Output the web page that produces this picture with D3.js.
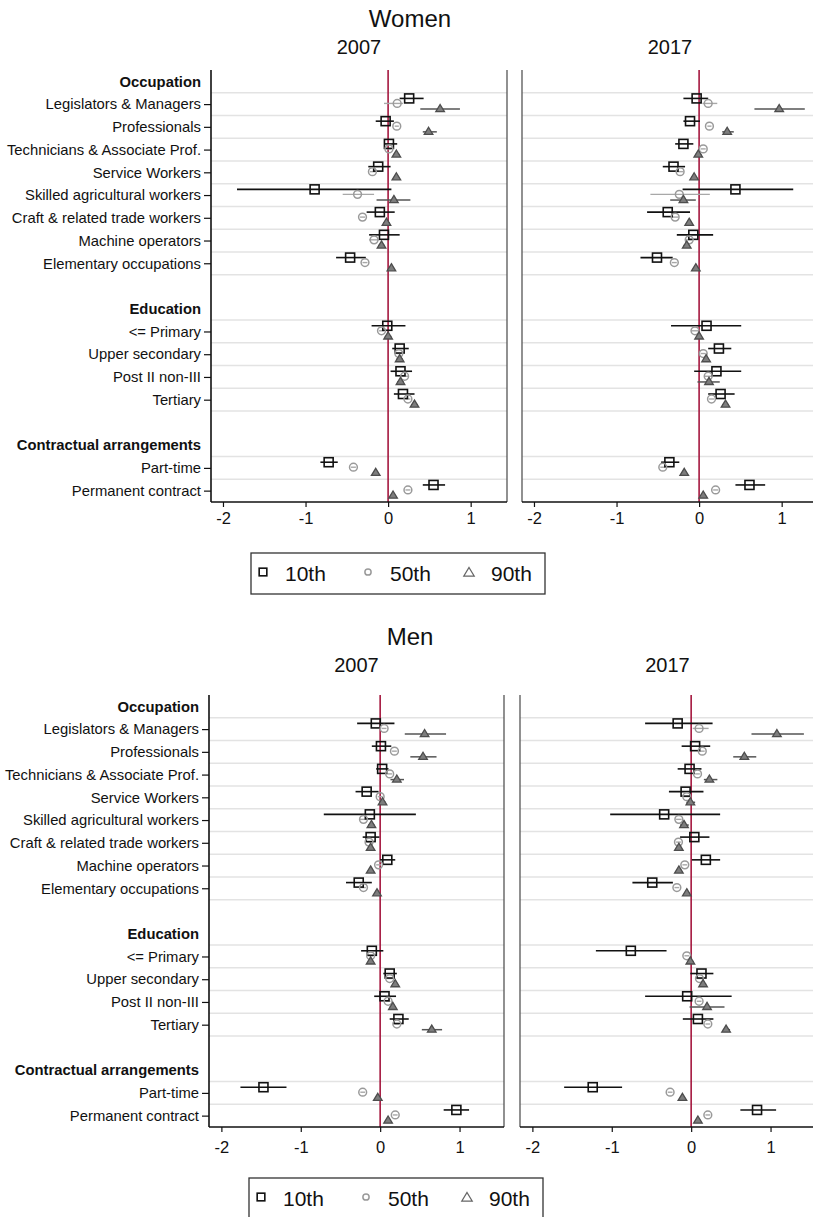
<!DOCTYPE html>
<html>
<head>
<meta charset="utf-8">
<script src="https://cdn.jsdelivr.net/npm/d3@7"></script>
<style>
  body { margin: 0; background: #fff; }
  svg { display: block; font-family: "Liberation Sans", Arial, Helvetica, sans-serif; }
</style>
</head>
<body>
<script>
// categories
const occupations = ["Legislators & Managers", "Professionals", "Technicians & Associate Prof.",
  "Service Workers", "Skilled agricultural workers", "Craft & related trade workers",
  "Machine operators", "Elementary occupations"];
const education = ["<= Primary", "Upper secondary", "Post II non-III", "Tertiary"];
const contracts = ["Part-time", "Permanent contract"];
const groupNames = ["Occupation", "Education", "Contractual arrangements"];
const percentiles = ["10th", "50th", "90th"];
const years = ["2007", "2017"];
const xTicks = [-2, -1, 0, 1];

// estimates as [coef, lower CI, upper CI], one row per category
const w07_p10 = [[0.255,0.14,0.43],[-0.03,-0.15,0.07],[0.01,-0.05,0.11],[-0.12,-0.24,0.03],[-0.89,-1.83,0.04],[-0.10,-0.26,0.08],[-0.05,-0.23,0.14],[-0.46,-0.63,-0.27],
  [-0.01,-0.20,0.21],[0.14,0.05,0.25],[0.15,0.03,0.29],[0.18,0.07,0.32],[-0.72,-0.82,-0.61],[0.55,0.42,0.69]];
const w07_p50 = [[0.11,-0.05,0.18],[0.105,0.08,0.13],[0.01,-0.02,0.04],[-0.19,-0.22,-0.16],[-0.37,-0.55,-0.17],[-0.31,-0.34,-0.28],[-0.17,-0.23,-0.11],[-0.28,-0.31,-0.25],
  [-0.08,-0.11,-0.05],[0.13,0.10,0.16],[0.20,0.16,0.24],[0.24,0.21,0.27],[-0.42,-0.45,-0.39],[0.24,0.21,0.27]];
const w07_p90 = [[0.63,0.39,0.87],[0.49,0.42,0.59],[0.10,0.06,0.14],[0.10,0.07,0.13],[0.07,-0.14,0.27],[-0.02,-0.06,0.02],[-0.08,-0.12,-0.04],[0.04,0.01,0.07],
  [0.00,-0.04,0.04],[0.14,0.10,0.18],[0.15,0.11,0.19],[0.32,0.28,0.36],[-0.15,-0.18,-0.12],[0.06,0.03,0.09]];

const w17_p10 = [[-0.03,-0.19,0.11],[-0.11,-0.19,0.01],[-0.19,-0.29,-0.07],[-0.31,-0.44,-0.17],[0.44,-0.20,1.14],[-0.38,-0.63,-0.11],[-0.07,-0.27,0.17],[-0.51,-0.71,-0.32],
  [0.09,-0.34,0.51],[0.24,0.11,0.39],[0.21,-0.06,0.51],[0.26,0.11,0.43],[-0.36,-0.46,-0.24],[0.61,0.44,0.80]];
const w17_p50 = [[0.11,0.04,0.22],[0.125,0.10,0.15],[0.05,0.02,0.08],[-0.23,-0.27,-0.19],[-0.24,-0.59,0.13],[-0.29,-0.33,-0.25],[-0.12,-0.16,-0.08],[-0.30,-0.33,-0.27],
  [-0.05,-0.09,-0.01],[0.05,0.02,0.08],[0.11,0.07,0.15],[0.15,0.12,0.18],[-0.44,-0.47,-0.41],[0.20,0.17,0.23]];
const w17_p90 = [[0.97,0.67,1.28],[0.34,0.28,0.42],[-0.01,-0.05,0.03],[-0.06,-0.09,-0.03],[-0.19,-0.35,-0.04],[-0.12,-0.15,-0.09],[-0.15,-0.19,-0.11],[-0.04,-0.07,-0.01],
  [0.00,-0.03,0.03],[0.085,0.05,0.12],[0.12,-0.02,0.25],[0.32,0.28,0.36],[-0.18,-0.21,-0.15],[0.05,0.02,0.08]];

const m07_p10 = [[-0.055,-0.29,0.18],[0.01,-0.105,0.14],[0.025,-0.05,0.105],[-0.17,-0.31,-0.02],[-0.13,-0.71,0.45],[-0.12,-0.22,-0.01],[0.09,0.00,0.19],[-0.27,-0.43,-0.105],
  [-0.105,-0.24,0.04],[0.12,0.04,0.21],[0.055,-0.075,0.20],[0.23,0.12,0.36],[-1.47,-1.76,-1.18],[0.96,0.80,1.12]];
const m07_p50 = [[0.05,0.02,0.08],[0.18,0.15,0.21],[0.12,0.09,0.15],[0.00,-0.03,0.03],[-0.21,-0.26,-0.16],[-0.14,-0.17,-0.11],[-0.02,-0.05,0.01],[-0.21,-0.24,-0.18],
  [-0.12,-0.15,-0.09],[0.12,0.09,0.15],[0.10,0.07,0.13],[0.21,0.18,0.24],[-0.22,-0.25,-0.19],[0.19,0.16,0.22]];
const m07_p90 = [[0.56,0.31,0.83],[0.54,0.38,0.71],[0.21,0.13,0.30],[0.03,-0.01,0.07],[-0.11,-0.15,-0.07],[-0.12,-0.15,-0.09],[-0.12,-0.15,-0.09],[-0.04,-0.07,-0.01],
  [-0.12,-0.15,-0.09],[0.19,0.16,0.22],[0.16,0.12,0.20],[0.65,0.525,0.78],[-0.03,-0.06,0.00],[0.10,0.07,0.13]];

const m17_p10 = [[-0.17,-0.58,0.27],[0.05,-0.12,0.24],[-0.02,-0.17,0.13],[-0.07,-0.28,0.155],[-0.34,-1.02,0.365],[0.04,-0.14,0.23],[0.185,0.01,0.365],[-0.49,-0.74,-0.23],
  [-0.76,-1.20,-0.31],[0.13,-0.01,0.28],[-0.05,-0.58,0.51],[0.085,-0.105,0.28],[-1.24,-1.60,-0.87],[0.83,0.62,1.07]];
const m17_p50 = [[0.10,0.02,0.22],[0.14,0.11,0.17],[0.08,0.05,0.11],[-0.055,-0.09,-0.02],[-0.155,-0.19,-0.12],[-0.16,-0.19,-0.13],[-0.08,-0.11,-0.05],[-0.18,-0.21,-0.15],
  [-0.055,-0.085,-0.025],[0.105,0.075,0.135],[0.10,0.07,0.13],[0.21,0.18,0.24],[-0.265,-0.295,-0.235],[0.21,0.18,0.24]];
const m17_p90 = [[1.08,0.76,1.42],[0.67,0.53,0.82],[0.23,0.16,0.33],[-0.01,-0.06,0.05],[-0.09,-0.14,-0.03],[-0.155,-0.19,-0.12],[-0.155,-0.19,-0.12],[-0.055,-0.09,-0.02],
  [-0.01,-0.05,0.03],[0.15,0.11,0.19],[0.20,-0.02,0.42],[0.44,0.40,0.49],[-0.11,-0.14,-0.08],[0.085,0.05,0.12]];

const svg = d3.select("body").append("svg").attr("width", 813).attr("height", 1217);

// row layout: header row, items, blank row between groups
const groups = [occupations, education, contracts];
const itemRows = [], headerRows = [], labels = [];
let r = 0;
groups.forEach((items, gi) => {
  headerRows.push(r); r++;
  items.forEach(it => { itemRows.push(r); labels.push(it); r++; });
  if (gi < groups.length - 1) r++;
});
const nRows = r;

const styles = [
  { line: "#111", width: 1.6 },
  { line: "#a8a8a8", width: 1.4 },
  { line: "#555", width: 1.5 }
];
const offsets = [-0.25, -0.03, 0.22];

function marker(g, k, x, y, scale = 1) {
  if (k === 0) {
    const s = 9 * scale;
    g.append("rect").attr("x", x - s / 2).attr("y", y - s / 2).attr("width", s).attr("height", s)
      .attr("fill", "none").attr("stroke", "#111").attr("stroke-width", 1.6);
  } else if (k === 1) {
    g.append("circle").attr("cx", x).attr("cy", y).attr("r", 3.9 * scale)
      .attr("fill", "none").attr("stroke", "#9a9a9a").attr("stroke-width", 1.5);
  } else {
    const h = 4.6 * scale, w = 4.3 * scale;
    g.append("path").attr("d", `M${x},${y - h}L${x + w},${y + h * 0.55}L${x - w},${y + h * 0.55}Z`)
      .attr("fill", scale === 1 ? "#7d7d7d" : "none").attr("stroke", scale === 1 ? "#4d4d4d" : "#666")
      .attr("stroke-width", 1.3);
  }
}

function drawFigure(cfg) {
  svg.append("text").attr("x", 410).attr("y", cfg.titleY).attr("text-anchor", "middle")
    .style("font-size", "24px").attr("fill", "#111").text(cfg.title);

  const y = d3.scaleLinear().domain([-0.5, nRows - 0.5]).range([cfg.top, cfg.bottom]);

  cfg.panels.forEach((p, pi) => {
    const x = d3.scaleLinear().domain(cfg.domain).range(p.range);
    const g = svg.append("g");

    g.append("text").attr("x", (p.range[0] + p.range[1]) / 2).attr("y", cfg.yearY)
      .attr("text-anchor", "middle").style("font-size", "20px").attr("fill", "#111").text(years[pi]);

    // grid lines between rows
    const gridRows = [];
    let idx = 0;
    groups.forEach(items => {
      items.forEach(() => { gridRows.push(itemRows[idx] - 0.5); idx++; });
      gridRows.push(itemRows[idx - 1] + 0.5);
    });
    g.selectAll(".grid").data(gridRows.filter(v => v < nRows - 0.5)).enter().append("line")
      .attr("x1", p.range[0]).attr("x2", p.range[1])
      .attr("y1", d => y(d)).attr("y2", d => y(d))
      .attr("stroke", "#e3e3e3").attr("stroke-width", 1.5);

    // zero reference line
    g.append("line").attr("x1", x(0)).attr("x2", x(0)).attr("y1", cfg.top).attr("y2", cfg.bottom)
      .attr("stroke", "#a5183f").attr("stroke-width", 1.6);

    // frame
    g.append("line").attr("x1", p.range[0]).attr("x2", p.range[0]).attr("y1", cfg.top).attr("y2", cfg.bottom)
      .attr("stroke", pi === 0 ? "#111" : "#555").attr("stroke-width", pi === 0 ? 1.6 : 1.3);
    g.append("line").attr("x1", p.range[1]).attr("x2", p.range[1]).attr("y1", cfg.top).attr("y2", cfg.bottom)
      .attr("stroke", "#555").attr("stroke-width", 1.3);

    // x axis
    const xAxis = g.append("g").attr("transform", `translate(0,${cfg.bottom})`)
      .call(d3.axisBottom(x).tickValues(xTicks).tickFormat(d => String(d)).tickSize(5).tickSizeOuter(0));
    xAxis.select(".domain").attr("stroke", "#111").attr("stroke-width", 1.6)
      .attr("d", `M${p.range[0]},0H${p.range[1]}`);
    xAxis.selectAll(".tick line").attr("stroke", "#111").attr("stroke-width", 1.2);
    xAxis.selectAll(".tick text").attr("dy", cfg.tickDy).style("font-size", "16.5px")
      .style("font-family", "Liberation Sans, Arial, sans-serif").attr("fill", "#111");

    // y axis labels on first panel
    if (pi === 0) {
      const yAxis = g.append("g").attr("transform", `translate(${p.range[0]},0)`)
        .call(d3.axisLeft(y).tickValues(itemRows).tickFormat((d, i) => labels[i]).tickSize(7).tickPadding(3));
      yAxis.select(".domain").remove();
      yAxis.selectAll(".tick line").attr("stroke", "#111").attr("stroke-width", 1.2);
      yAxis.selectAll(".tick text").style("font-size", "14.8px")
        .style("font-family", "Liberation Sans, Arial, sans-serif").attr("fill", "#111");
      g.selectAll(".hdr").data(headerRows).enter().append("text")
        .attr("x", p.range[0] - 10).attr("y", d => y(d)).attr("dy", "0.35em")
        .attr("text-anchor", "end").style("font-size", "14.8px").style("font-weight", "bold")
        .attr("fill", "#111").text((d, i) => groupNames[i]);
    }

    // CIs then markers
    p.series.forEach((ser, k) => {
      ser.forEach((v, i) => {
        const yy = y(itemRows[i] + offsets[k]);
        g.append("line").attr("x1", x(v[1])).attr("x2", x(v[2])).attr("y1", yy).attr("y2", yy)
          .attr("stroke", styles[k].line).attr("stroke-width", styles[k].width);
      });
    });
    p.series.forEach((ser, k) => {
      ser.forEach((v, i) => marker(g, k, x(v[0]), y(itemRows[i] + offsets[k])));
    });
  });

  // legend
  const lg = svg.append("g");
  lg.append("rect").attr("x", cfg.legend.x).attr("y", cfg.legend.y).attr("width", 294).attr("height", 41)
    .attr("fill", "#fff").attr("stroke", "#333").attr("stroke-width", 1.3);
  const lx = [12, 117, 218];
  percentiles.forEach((lab, k) => {
    const mx = cfg.legend.x + lx[k], my = cfg.legend.y + 19;
    if (k === 0) marker(lg, 0, mx, my, 0.85);
    else if (k === 1) marker(lg, 1, mx, my, 0.8);
    else marker(lg, 2, mx, my + 1, 1.2);
    lg.append("text").attr("x", mx + 22).attr("y", cfg.legend.y + 28)
      .style("font-size", "21px").attr("fill", "#111").text(lab);
  });
}

drawFigure({
  title: "Women", titleY: 27, yearY: 54, top: 70, bottom: 502, domain: [-2.145, 1.44], tickDy: "0.85em",
  panels: [
    { range: [211, 507], series: [w07_p10, w07_p50, w07_p90] },
    { range: [522, 818], series: [w17_p10, w17_p50, w17_p90] }
  ],
  legend: { x: 251, y: 553 }
});

drawFigure({
  title: "Men", titleY: 645, yearY: 672, top: 695, bottom: 1127, domain: [-2.156, 1.56], tickDy: "1.1em",
  panels: [
    { range: [209, 504], series: [m07_p10, m07_p50, m07_p90] },
    { range: [520, 815], series: [m17_p10, m17_p50, m17_p90] }
  ],
  legend: { x: 249, y: 1178 }
});
</script>
</body>
</html>
